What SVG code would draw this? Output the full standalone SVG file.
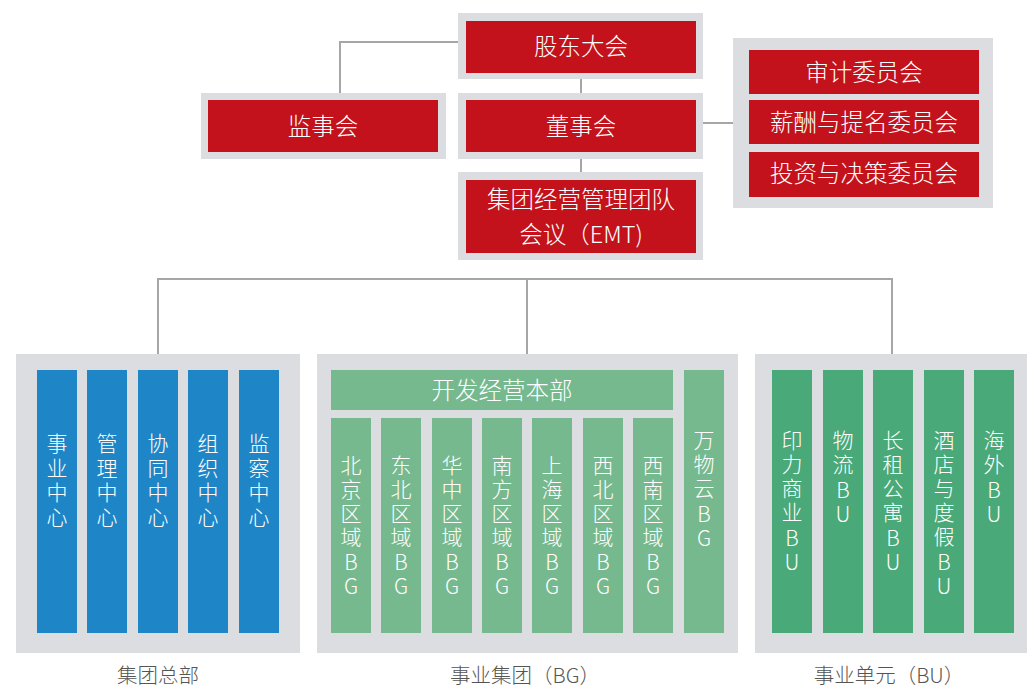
<svg xmlns="http://www.w3.org/2000/svg" width="1027" height="686" viewBox="0 0 1027 686">
<style>
.frame{fill:#dcdde0}
.red{fill:#c3121b}
.blue{fill:#1e86c7}
.lg{fill:#77b98f}
.dg{fill:#4aa978}
.t{font-family:"Noto Sans CJK SC","Liberation Sans",sans-serif;font-weight:300;fill:#ffffff;text-anchor:middle}
.h{font-size:23.5px}
.v{font-size:21px}
.cap{font-family:"Noto Sans CJK SC","Liberation Sans",sans-serif;font-weight:300;fill:#555555;font-size:20.5px;text-anchor:middle}
.ln{fill:none;stroke:#a6a6a6;stroke-width:2}
</style>
<rect width="1027" height="686" fill="#ffffff"/>
<g id="connectors">
<path class="ln" d="M458,42 H340 V93"/>
<path class="ln" d="M581,79 V93"/>
<path class="ln" d="M581,159 V172"/>
<path class="ln" d="M703,123 H733"/>
<path class="ln" d="M158,354 V279 H892 V354"/>
<path class="ln" d="M527,279 V354"/>
</g>
<g id="gudong">
<rect class="frame" x="458" y="13" width="245" height="66"/>
<rect class="red" x="466" y="21" width="230" height="52"/>
<text class="t h" x="581" y="55">股东大会</text>
</g>
<g id="jianshihui">
<rect class="frame" x="201" y="93" width="245" height="66"/>
<rect class="red" x="208" y="100" width="230" height="52"/>
<text class="t h" x="323" y="135">监事会</text>
</g>
<g id="dongshihui">
<rect class="frame" x="458" y="93" width="245" height="66"/>
<rect class="red" x="466" y="100" width="230" height="52"/>
<text class="t h" x="581" y="135">董事会</text>
</g>
<g id="emt">
<rect class="frame" x="458" y="172" width="245" height="88"/>
<rect class="red" x="466" y="180" width="230" height="73"/>
<text class="t h" x="581" y="208">集团经营管理团队</text>
<text class="t h" x="581" y="243">会议（EMT)</text>
</g>
<g id="committees">
<rect class="frame" x="733" y="38" width="260" height="170"/>
<rect class="red" x="749" y="50" width="230" height="44"/>
<text class="t h" x="864" y="81">审计委员会</text>
<rect class="red" x="749" y="100" width="230" height="44"/>
<text class="t h" x="864" y="131">薪酬与提名委员会</text>
<rect class="red" x="749" y="152" width="230" height="45"/>
<text class="t h" x="864" y="182">投资与决策委员会</text>
</g>
<g id="hq">
<rect class="frame" x="16" y="354" width="284" height="299"/>
<rect class="blue" x="37" y="370" width="40" height="263"/>
<text class="t v" x="57" y="451"><tspan x="57">事</tspan><tspan x="57" dy="24.5">业</tspan><tspan x="57" dy="24.5">中</tspan><tspan x="57" dy="24.5">心</tspan></text>
<rect class="blue" x="87" y="370" width="40" height="263"/>
<text class="t v" x="107" y="451"><tspan x="107">管</tspan><tspan x="107" dy="24.5">理</tspan><tspan x="107" dy="24.5">中</tspan><tspan x="107" dy="24.5">心</tspan></text>
<rect class="blue" x="138" y="370" width="40" height="263"/>
<text class="t v" x="158" y="451"><tspan x="158">协</tspan><tspan x="158" dy="24.5">同</tspan><tspan x="158" dy="24.5">中</tspan><tspan x="158" dy="24.5">心</tspan></text>
<rect class="blue" x="188" y="370" width="40" height="263"/>
<text class="t v" x="208" y="451"><tspan x="208">组</tspan><tspan x="208" dy="24.5">织</tspan><tspan x="208" dy="24.5">中</tspan><tspan x="208" dy="24.5">心</tspan></text>
<rect class="blue" x="239" y="370" width="40" height="263"/>
<text class="t v" x="259" y="451"><tspan x="259">监</tspan><tspan x="259" dy="24.5">察</tspan><tspan x="259" dy="24.5">中</tspan><tspan x="259" dy="24.5">心</tspan></text>
<text class="cap" x="158" y="683">集团总部</text>
</g>
<g id="bg">
<rect class="frame" x="317" y="354" width="421" height="299"/>
<rect class="lg" x="331" y="370" width="342" height="40"/>
<text class="t h" x="502" y="399">开发经营本部</text>
<rect class="lg" x="331" y="418" width="40" height="215"/>
<text class="t v" x="351" y="473"><tspan x="351">北</tspan><tspan x="351" dy="24">京</tspan><tspan x="351" dy="24">区</tspan><tspan x="351" dy="24">域</tspan><tspan x="351" dy="25">B</tspan><tspan x="351" dy="24">G</tspan></text>
<rect class="lg" x="381" y="418" width="40" height="215"/>
<text class="t v" x="401" y="473"><tspan x="401">东</tspan><tspan x="401" dy="24">北</tspan><tspan x="401" dy="24">区</tspan><tspan x="401" dy="24">域</tspan><tspan x="401" dy="25">B</tspan><tspan x="401" dy="24">G</tspan></text>
<rect class="lg" x="432" y="418" width="40" height="215"/>
<text class="t v" x="452" y="473"><tspan x="452">华</tspan><tspan x="452" dy="24">中</tspan><tspan x="452" dy="24">区</tspan><tspan x="452" dy="24">域</tspan><tspan x="452" dy="25">B</tspan><tspan x="452" dy="24">G</tspan></text>
<rect class="lg" x="482" y="418" width="40" height="215"/>
<text class="t v" x="502" y="473"><tspan x="502">南</tspan><tspan x="502" dy="24">方</tspan><tspan x="502" dy="24">区</tspan><tspan x="502" dy="24">域</tspan><tspan x="502" dy="25">B</tspan><tspan x="502" dy="24">G</tspan></text>
<rect class="lg" x="532" y="418" width="40" height="215"/>
<text class="t v" x="552" y="473"><tspan x="552">上</tspan><tspan x="552" dy="24">海</tspan><tspan x="552" dy="24">区</tspan><tspan x="552" dy="24">域</tspan><tspan x="552" dy="25">B</tspan><tspan x="552" dy="24">G</tspan></text>
<rect class="lg" x="583" y="418" width="40" height="215"/>
<text class="t v" x="603" y="473"><tspan x="603">西</tspan><tspan x="603" dy="24">北</tspan><tspan x="603" dy="24">区</tspan><tspan x="603" dy="24">域</tspan><tspan x="603" dy="25">B</tspan><tspan x="603" dy="24">G</tspan></text>
<rect class="lg" x="633" y="418" width="40" height="215"/>
<text class="t v" x="653" y="473"><tspan x="653">西</tspan><tspan x="653" dy="24">南</tspan><tspan x="653" dy="24">区</tspan><tspan x="653" dy="24">域</tspan><tspan x="653" dy="25">B</tspan><tspan x="653" dy="24">G</tspan></text>
<rect class="lg" x="684" y="370" width="40" height="263"/>
<text class="t v" x="704" y="448"><tspan x="704">万</tspan><tspan x="704" dy="24">物</tspan><tspan x="704" dy="24">云</tspan><tspan x="704" dy="26">B</tspan><tspan x="704" dy="24">G</tspan></text>
<text class="cap" x="525" y="683">事业集团（BG）</text>
</g>
<g id="bu">
<rect class="frame" x="755" y="354" width="272" height="299"/>
<rect class="dg" x="772" y="370" width="40" height="263"/>
<text class="t v" x="792" y="448"><tspan x="792">印</tspan><tspan x="792" dy="24">力</tspan><tspan x="792" dy="24">商</tspan><tspan x="792" dy="24">业</tspan><tspan x="792" dy="26">B</tspan><tspan x="792" dy="24">U</tspan></text>
<rect class="dg" x="823" y="370" width="40" height="263"/>
<text class="t v" x="843" y="448"><tspan x="843">物</tspan><tspan x="843" dy="24">流</tspan><tspan x="843" dy="26">B</tspan><tspan x="843" dy="24">U</tspan></text>
<rect class="dg" x="873" y="370" width="40" height="263"/>
<text class="t v" x="893" y="448"><tspan x="893">长</tspan><tspan x="893" dy="24">租</tspan><tspan x="893" dy="24">公</tspan><tspan x="893" dy="24">寓</tspan><tspan x="893" dy="26">B</tspan><tspan x="893" dy="24">U</tspan></text>
<rect class="dg" x="924" y="370" width="40" height="263"/>
<text class="t v" x="944" y="448"><tspan x="944">酒</tspan><tspan x="944" dy="24">店</tspan><tspan x="944" dy="24">与</tspan><tspan x="944" dy="24">度</tspan><tspan x="944" dy="24">假</tspan><tspan x="944" dy="26">B</tspan><tspan x="944" dy="24">U</tspan></text>
<rect class="dg" x="974" y="370" width="40" height="263"/>
<text class="t v" x="994" y="448"><tspan x="994">海</tspan><tspan x="994" dy="24">外</tspan><tspan x="994" dy="26">B</tspan><tspan x="994" dy="24">U</tspan></text>
<text class="cap" x="889" y="683">事业单元（BU）</text>
</g>
</svg>
